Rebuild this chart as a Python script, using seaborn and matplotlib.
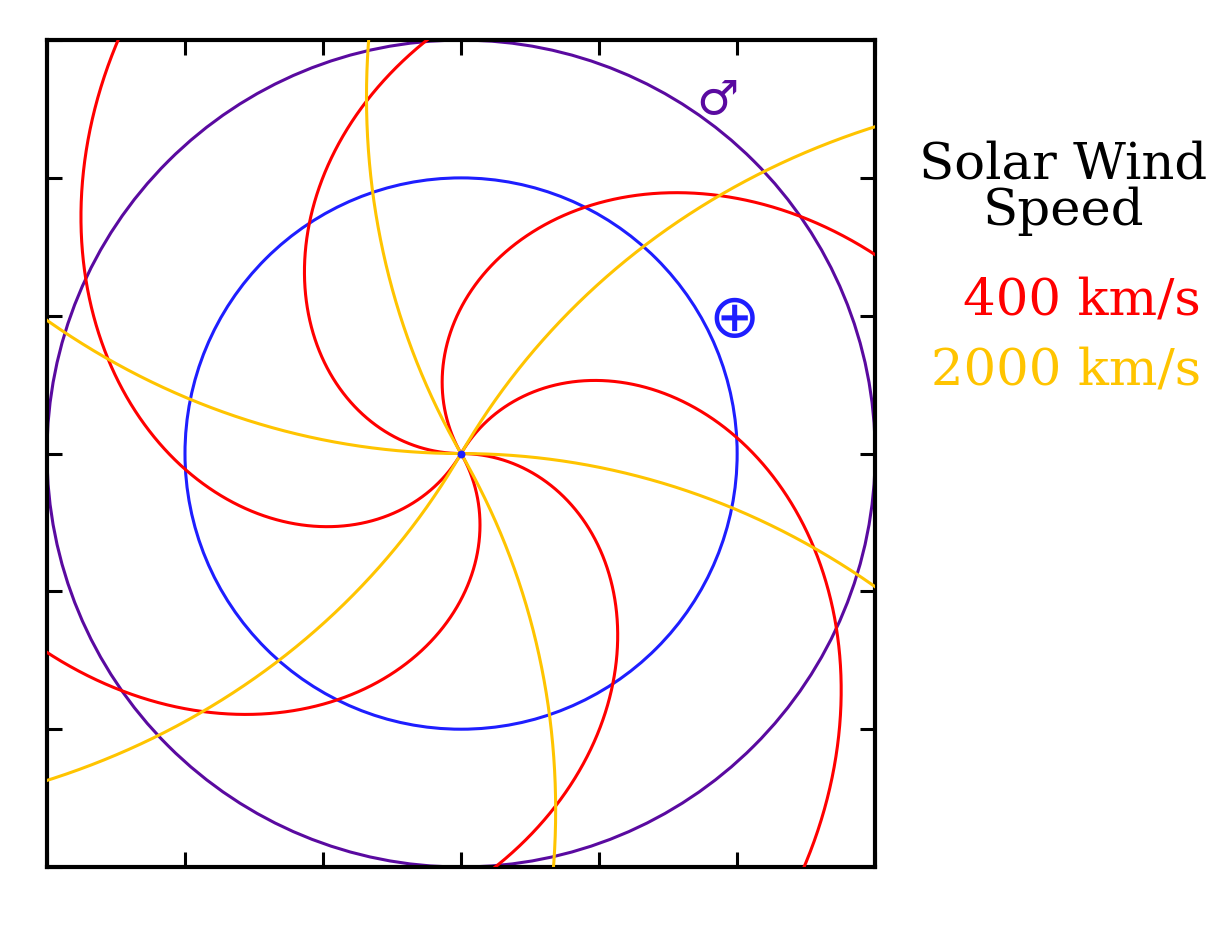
import numpy as np
import pandas as pd
import matplotlib
matplotlib.use("Agg")
import matplotlib.pyplot as plt
import seaborn as sns

# Solar wind speeds (km/s) and their line colours
speeds = [400, 2000]
speed_colors = ["#FF0000", "#FFC400"]
speed_labels = ["400 km/s", "2000 km/s"]

# Footpoint longitudes of the field-line arms (degrees)
arm_longitudes = [0, 60, 120, 180, 240, 300]

# Planet orbits (AU)
orbit_names = ["Earth", "Mars"]
orbit_radii = [1.0, 1.5]
orbit_colors = ["#1E1EFF", "#5A0AA0"]
orbit_symbols = ["\u2295", "\u2642"]
symbol_r = [1.10, 1.58]
symbol_angle_deg = [26, 54]
symbol_sizes = [44, 34]

# Solar rotation period (days) and the astronomical unit (m)
rotation_days = 27.5
AU_M = 1.496e11

omega = 2 * np.pi / (rotation_days * 86400.0)

# Parker spiral arms: r = v (phi0 - phi) / omega
rows = []
r_grid = np.linspace(0.0, 2.3, 600)
for v in speeds:
    scale_au = v * 1e3 / omega / AU_M  # AU per radian of winding
    for lon in arm_longitudes:
        phi = np.deg2rad(lon) - r_grid / scale_au
        for k, (rr, pp) in enumerate(zip(r_grid, phi)):
            rows.append({"x": rr * np.cos(pp), "y": rr * np.sin(pp),
                         "speed": v, "arm": f"{v}-{lon}", "k": k})
spirals = pd.DataFrame(rows)

sns.set_style("white")
fig = plt.figure(figsize=(12.07, 9.34), dpi=100)
ax = fig.add_axes([0.0389, 0.0717, 0.6862, 0.8854])

# Orbits
for r, c in zip(orbit_radii, orbit_colors):
    ax.add_patch(plt.Circle((0, 0), r, fill=False, color=c, lw=2.2, zorder=2))

# Spiral field lines, slow wind first so the fast wind sits on top
for v, c in zip(speeds, speed_colors):
    sub = spirals[spirals["speed"] == v]
    sns.lineplot(data=sub, x="x", y="y", units="arm", estimator=None,
                 sort=False, color=c, lw=2.2, legend=False, ax=ax, zorder=3)

# The Sun
ax.scatter([0], [0], s=22, color="#1E1EFF", zorder=5)

# Planet symbols
for sym, c, rr, ang, fs in zip(orbit_symbols, orbit_colors, symbol_r,
                               symbol_angle_deg, symbol_sizes):
    a = np.deg2rad(ang)
    ax.text(rr * np.cos(a), rr * np.sin(a), sym, color=c, fontsize=fs,
            ha="center", va="center", family="DejaVu Sans", zorder=6)

ax.set_xlim(-1.5, 1.5)
ax.set_ylim(-1.5, 1.5)
ticks = np.arange(-1.5, 1.51, 0.5)
ax.set_xticks(ticks)
ax.set_yticks(ticks)
ax.set_xticklabels([])
ax.set_yticklabels([])
ax.set_xlabel("")
ax.set_ylabel("")
ax.tick_params(direction="in", length=11, width=2.2, color="black",
               top=True, right=True, bottom=True, left=True)
for s in ax.spines.values():
    s.set_visible(True)
    s.set_color("black")
    s.set_linewidth(3.0)

# Legend text
fig.text(0.881, 0.799, "Solar Wind\nSpeed", ha="center", va="center",
         fontsize=37, family="DejaVu Serif", linespacing=0.92, color="black")
fig.text(0.995, 0.678, speed_labels[0], ha="right", va="center",
         fontsize=37, family="DejaVu Serif", color=speed_colors[0])
fig.text(0.995, 0.603, speed_labels[1], ha="right", va="center",
         fontsize=37, family="DejaVu Serif", color=speed_colors[1])

fig.savefig("out.png", dpi=100, facecolor="white")
